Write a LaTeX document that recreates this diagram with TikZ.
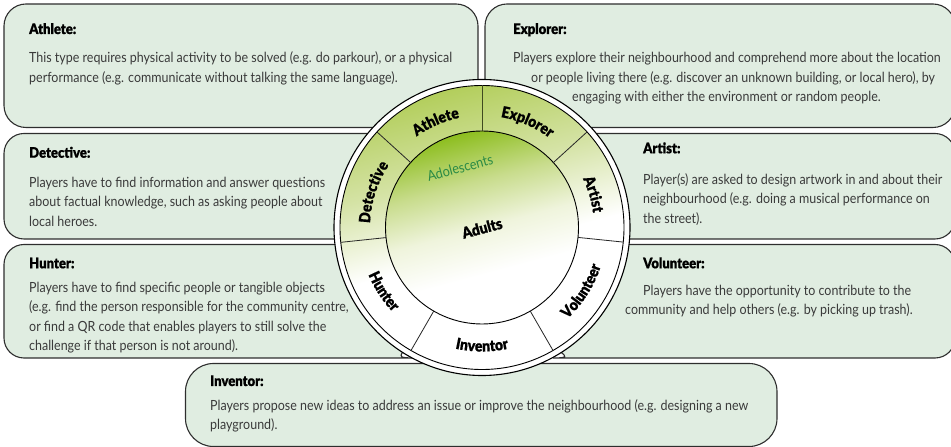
\documentclass[tikz,border=0pt]{standalone}
\usepackage{fontspec}
\usetikzlibrary{decorations.text,calc}
\setmainfont{Lato}[FakeStretch=0.89]
\newfontfamily\hfont{Lato}[UprightFont=* Black,FakeStretch=0.9,FakeBold=0.6]
\definecolor{boxfill}{HTML}{E0EDE1}
\definecolor{boxline}{HTML}{2E2E2E}
\definecolor{bodyink}{HTML}{3A3A3A}
\definecolor{greenink}{HTML}{2A8A45}
\definecolor{ringA}{HTML}{B3CE5C}
\definecolor{ringB}{HTML}{D5E3A6}
\definecolor{innerA}{HTML}{8DBE1F}
\definecolor{innerB}{HTML}{C8DC8C}
\definecolor{innerC}{HTML}{EFF4DC}
\definecolor{midline}{HTML}{3F4A20}
\pgfdeclareverticalshading{ringgrad}{100bp}{color(0bp)=(white);color(46bp)=(white);color(60bp)=(ringB);color(75bp)=(ringA);color(100bp)=(ringA)}
\pgfdeclareverticalshading{innergrad}{100bp}{color(0bp)=(white);color(38bp)=(white);color(50bp)=(innerC);color(62bp)=(innerB);color(75bp)=(innerA);color(100bp)=(innerA)}
\tikzset{
  boxshape/.style={draw=boxline,fill=boxfill,line width=1.1pt},
  ttl/.style={anchor=base west,inner sep=0pt,font=\hfont\fontsize{14.5}{16}\selectfont},
  bodytxt/.style={anchor=north west,inner sep=0pt,align=left,text=bodyink,font=\fontsize{14}{19.3}\selectfont},
  divider/.style={draw=black!85,line width=0.8pt},
}
\newcommand{\fs}{\rule{0pt}{11pt}}
\newcommand{\lab}{\hfont\fontsize{15.5}{18}\selectfont}
\newcommand{\cwlabel}[3]{\path[decorate,decoration={text along path,text align=center,text={|\lab|#3}}]
  (c) ++(#1+40:#2pt) arc[start angle=#1+40,end angle=#1-40,radius=#2pt];}
\newcommand{\ccwlabel}[3]{\path[decorate,decoration={text along path,text align=center,text={|\lab|#3}}]
  (c) ++(#1-40:#2pt) arc[start angle=#1-40,end angle=#1+40,radius=#2pt];}
\begin{document}
\begin{tikzpicture}[x=1pt,y=1pt]
\useasboundingbox (0,0) rectangle (951,447);
\coordinate (c) at (482,219.5);
% boxes
\draw[boxshape,rounded corners=22pt] (4,443) rectangle (478,319.5);
\draw[boxshape,rounded corners=22pt] (485,443) rectangle (955,319.5);
\draw[boxshape,rounded corners=20pt] (420,313.5) -- (4,313.5) -- (4,208) -- (420,208) [sharp corners] -- cycle;
\draw[boxshape,rounded corners=20pt] (540,313.5) -- (955,313.5) -- (955,208) -- (540,208) [sharp corners] -- cycle;
\draw[boxshape,rounded corners=20pt] (300,202.5) -- (4,202.5) -- (4,89) -- (396,89) [sharp corners] .. controls (398.5,89) and (400.5,90.5) .. (402,94) -- (420,110) -- (420,202.5) -- cycle;
\draw[boxshape,rounded corners=20pt] (700,202.5) -- (955,202.5) -- (955,89) -- (573,89) [sharp corners] .. controls (569,89) and (565,91) .. (562,94) -- (540,110) -- (540,202.5) -- cycle;
\draw[boxshape,rounded corners=28pt] (185.5,83.5) rectangle (777,0.5);
% wheel
\draw[fill=white,draw=black,line width=1.1pt] (c) circle (148pt);
\draw[shading=ringgrad,shading angle=15,draw=black,line width=0.9pt] (c) circle (142pt);
\draw[shading=innergrad,shading angle=15,draw=black,line width=0.9pt] (c) circle (96.5pt);
\foreach \a in {42.3,-5.9,-60,-120,186,137.7}{
  \draw[divider] ($(c)+(\a:96.5pt)$) -- ($(c)+(\a:142pt)$);
}
\draw[draw=midline,line width=1pt] ($(c)+(90:96.5pt)$) -- ($(c)+(90:142pt)$);
% ring labels
\cwlabel{113.6}{112}{Athlete}
\cwlabel{66.7}{112}{Explorer}
\cwlabel{16.6}{112}{Artist}
\cwlabel{162}{112}{Detective}
\ccwlabel{-32.5}{125}{Volunteer}
\ccwlabel{-90}{124}{Inventor}
\ccwlabel{-147}{123}{Hunter}
\node[rotate=15,text=greenink,font=\fontsize{14.2}{18}\selectfont] (adol) at (460,279.3) {Adolescents};
\node[rotate=15,font=\hfont\fontsize{15.5}{18}\selectfont] (adults) at (482,219) {Adults};
% texts
\node[ttl] (t1) at (29,413) {Athlete:};
\node[bodytxt] (b1) at (29,395.3) {\fs This type requires physical activity to be solved (e.g. do parkour), or a physical\\performance (e.g. communicate without talking the same language).};
\node[ttl] (t2) at (29,289.3) {Detective:};
\node[bodytxt] (b2) at (29,270.7) {\fs Players have to find information and answer questions\\about factual knowledge, such as asking people about\\local heroes.};
\node[ttl] (t3) at (29,178.7) {Hunter:};
\node[bodytxt] (b3) at (29,165.7) {\fs Players have to find specific people or tangible objects\\(e.g. find the person responsible for the community centre,\\or find a QR code that enables players to still solve the\\challenge if that person is not around).};
\node[ttl] (t4) at (210,61) {Inventor:};
\node[bodytxt] (b4) at (210,48) {\fs Players propose new ideas to address an issue or improve the neighbourhood (e.g. designing a new\\playground).};
\node[ttl] (t5) at (513,413) {Explorer:};
\node[bodytxt] (b5) at (513,395.3) {\fs Players explore their neighbourhood and comprehend more about the location\\\hspace*{18pt}or people living there (e.g. discover an unknown building, or local hero), by\\\hspace*{59pt}engaging with either the environment or random people.};
\node[ttl] (t6) at (643,293.7) {Artist:};
\node[bodytxt] (b6) at (643,273.7) {\fs Player(s) are asked to design artwork in and about their\\neighbourhood (e.g. doing a musical performance on\\the street).};
\node[ttl] (t7) at (643,178.7) {Volunteer:};
\node[bodytxt] (b7) at (625,163) {\fs\hspace*{18pt}Players have the opportunity to contribute to the\\community and help others (e.g. by picking up trash).};
\end{tikzpicture}
\end{document}
